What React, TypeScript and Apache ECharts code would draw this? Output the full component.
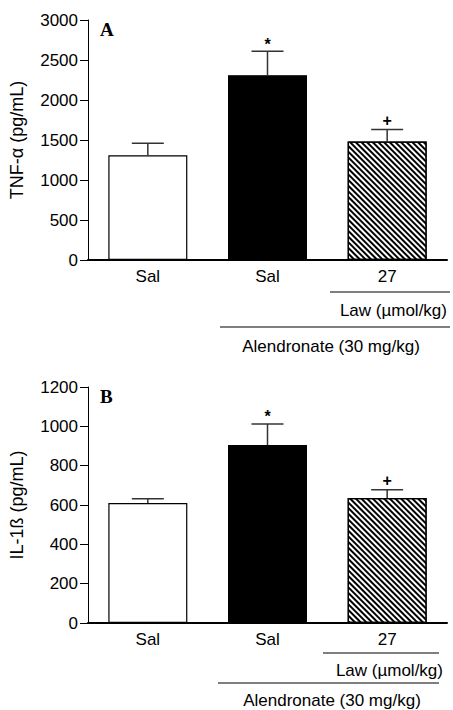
import React, { useEffect, useRef } from "react";
import * as echarts from "echarts";

const categories = ["Sal", "Sal", "27"];
const tnfValues = [1310, 2310, 1480];
const tnfErrors = [150, 300, 150];
const il1Values = [610, 905, 635];
const il1Errors = [22, 107, 42];
const marks = ["", "*", "+"];
const tnfTicks = { min: 0, max: 3000, interval: 500 };
const il1Ticks = { min: 0, max: 1200, interval: 200 };

const FONT = "Liberation Sans, Arial, sans-serif";

export default function App() {
  const ref = useRef<HTMLDivElement>(null);
  useEffect(() => {
    document.body.style.margin = "0";
    const chart = echarts.init(ref.current!, undefined, { renderer: "svg" });

    const barItems = (vals: number[]) =>
      vals.map((v, i) => ({
        value: v,
        itemStyle:
          i === 0
            ? { color: "#fff", borderColor: "#000", borderWidth: 1.2 }
            : i === 1
            ? { color: "#000", borderColor: "#000", borderWidth: 1.2 }
            : {
                color: "#fff",
                borderColor: "#000",
                borderWidth: 1.2,
                decal: {
                  symbol: "rect",
                  color: "#000",
                  backgroundColor: "#fff",
                  dashArrayX: [1, 0],
                  dashArrayY: [1.3, 1.6],
                  rotation: Math.PI / 4,
                },
              },
      }));

    const errSeries = (vals: number[], errs: number[], idx: number) => ({
      type: "custom",
      xAxisIndex: idx,
      yAxisIndex: idx,
      z: 5,
      data: vals.map((v, i) => [i, v, errs[i]]),
      renderItem: (params: any, api: any) => {
        const x = api.value(0);
        const y = api.value(1);
        const e = api.value(2);
        const p0 = api.coord([x, y]);
        const p1 = api.coord([x, y + e]);
        const half = 16;
        const st = { stroke: "#333", lineWidth: 1.5 };
        const children: any[] = [
          { type: "line", shape: { x1: p0[0], y1: p0[1], x2: p1[0], y2: p1[1] }, style: st },
          { type: "line", shape: { x1: p1[0] - half, y1: p1[1], x2: p1[0] + half, y2: p1[1] }, style: st },
        ];
        const m = marks[params.dataIndex];
        if (m) {
          children.push({
            type: "text",
            style: {
              text: m,
              x: p1[0],
              y: p1[1] - (m === "*" ? 7 : 9),
              align: "center",
              verticalAlign: "middle",
              font: "bold 16px " + FONT,
              fill: "#000",
            },
          });
        }
        return { type: "group", children };
      },
    });

    const xAxis = (idx: number) => ({
      type: "category",
      gridIndex: idx,
      data: categories,
      axisLine: { lineStyle: { color: "#000", width: 2 } },
      axisTick: { alignWithLabel: true, length: 5, lineStyle: { color: "#000", width: 1 } },
      axisLabel: { color: "#000", fontSize: 17, fontFamily: FONT, margin: 8 },
    });
    const yAxis = (idx: number, t: any, name: string) => ({
      type: "value",
      gridIndex: idx,
      min: t.min,
      max: t.max,
      interval: t.interval,
      name,
      nameLocation: "middle",
      nameGap: 62,
      nameTextStyle: { color: "#000", fontSize: 18, fontFamily: FONT },
      splitLine: { show: false },
      axisLine: { show: true, lineStyle: { color: "#000", width: 1 } },
      axisTick: { show: true, length: 8, lineStyle: { color: "#000" } },
      axisLabel: {
        color: "#000",
        fontSize: 17,
        fontFamily: FONT,
        margin: 10,
        formatter: (v: number) => String(v),
      },
    });

    const txt = (text: string, x: number, y: number, align: string, font = "17px " + FONT) => ({
      type: "text",
      x,
      y,
      style: { text, align, verticalAlign: "middle", font, fill: "#000" },
    });
    const ln = (x1: number, x2: number, y: number) => ({
      type: "line",
      shape: { x1, y1: y, x2, y2: y },
      style: { stroke: "#000", lineWidth: 1.2 },
    });

    chart.setOption({
      animation: false,
      grid: [
        { left: 88, width: 359, top: 20, height: 240 },
        { left: 88, width: 359, top: 387, height: 236 },
      ],
      xAxis: [xAxis(0), xAxis(1)],
      yAxis: [yAxis(0, tnfTicks, "TNF-α (pg/mL)"), yAxis(1, il1Ticks, "IL-1ß (pg/mL)")],
      series: [
        { type: "bar", xAxisIndex: 0, yAxisIndex: 0, barWidth: 79, data: barItems(tnfValues) },
        { type: "bar", xAxisIndex: 1, yAxisIndex: 1, barWidth: 79, data: barItems(il1Values) },
        errSeries(tnfValues, tnfErrors, 0),
        errSeries(il1Values, il1Errors, 1),
      ],
      graphic: [
        txt("A", 100, 29, "left", "bold 19px 'Liberation Serif', 'Times New Roman', serif"),
        txt("B", 100, 396, "left", "bold 19px 'Liberation Serif', 'Times New Roman', serif"),
        ln(330, 450, 292),
        txt("Law (µmol/kg)", 447, 310, "right"),
        ln(220, 450, 327),
        txt("Alendronate (30 mg/kg)", 331, 346, "center"),
        ln(323, 439, 653),
        txt("Law (µmol/kg)", 443, 670, "right"),
        ln(218, 439, 683),
        txt("Alendronate (30 mg/kg)", 332, 700, "center"),
      ],
    });
    return () => chart.dispose();
  }, []);
  return <div ref={ref} style={{ width: 453, height: 710 }} />;
}
